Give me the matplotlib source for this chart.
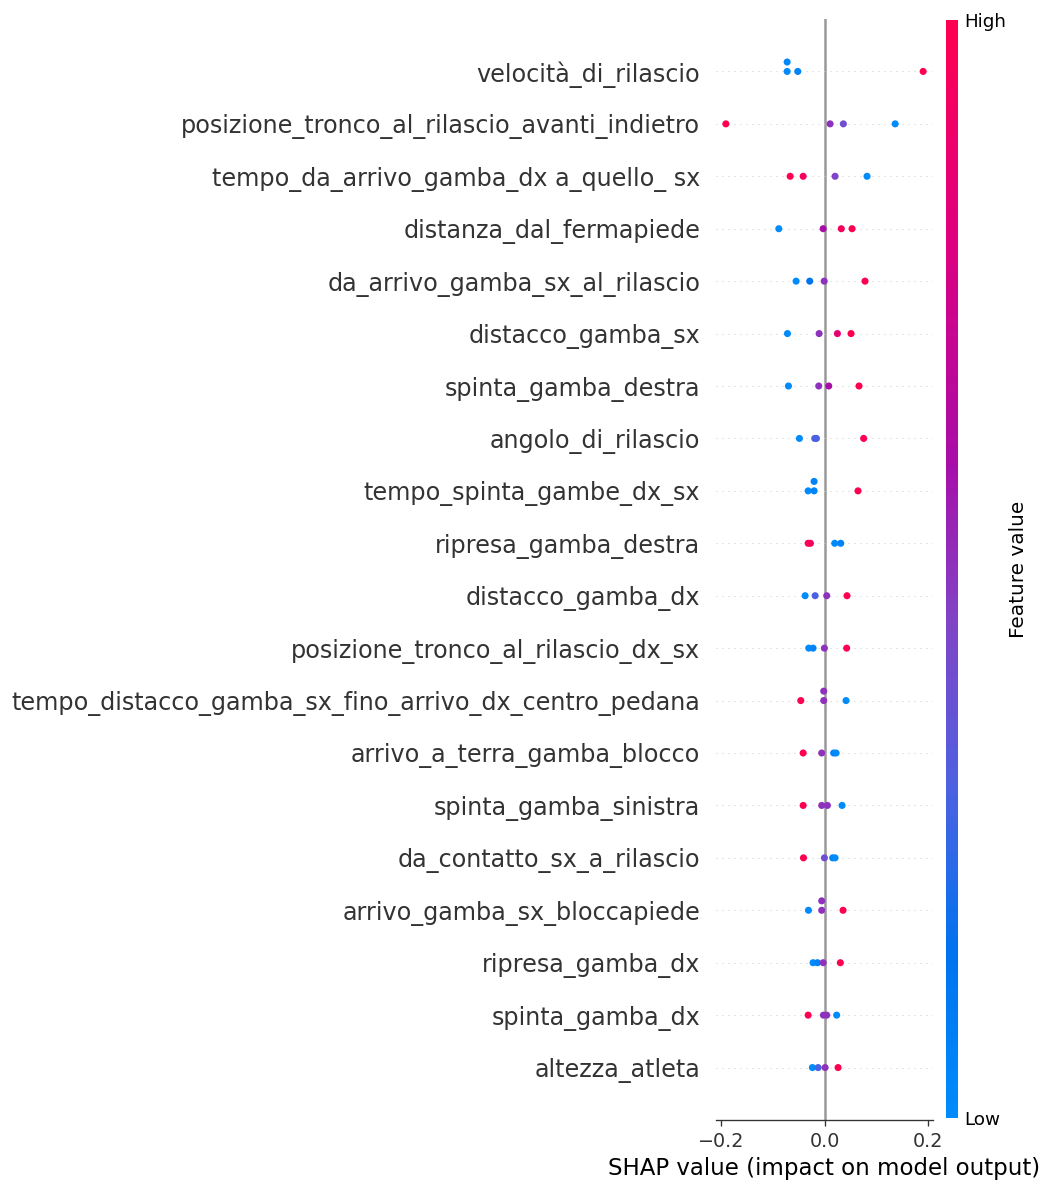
import numpy as np
import matplotlib
matplotlib.use("Agg")
from matplotlib import pyplot as plt
from matplotlib.colors import LinearSegmentedColormap

# features, top to bottom
features = [
    "velocità_di_rilascio",
    "posizione_tronco_al_rilascio_avanti_indietro",
    "tempo_da_arrivo_gamba_dx a_quello_ sx",
    "distanza_dal_fermapiede",
    "da_arrivo_gamba_sx_al_rilascio",
    "distacco_gamba_sx",
    "spinta_gamba_destra",
    "angolo_di_rilascio",
    "tempo_spinta_gambe_dx_sx",
    "ripresa_gamba_destra",
    "distacco_gamba_dx",
    "posizione_tronco_al_rilascio_dx_sx",
    "tempo_distacco_gamba_sx_fino_arrivo_dx_centro_pedana",
    "arrivo_a_terra_gamba_blocco",
    "spinta_gamba_sinistra",
    "da_contatto_sx_a_rilascio",
    "arrivo_gamba_sx_bloccapiede",
    "ripresa_gamba_dx",
    "spinta_gamba_dx",
    "altezza_atleta",
]

# SHAP values of the 4 samples, one row per feature
shap_values = [
    [-0.0725, -0.0725, -0.0520, 0.190],
    [-0.1908, 0.0104, 0.0360, 0.136],
    [-0.0667, -0.0416, 0.0200, 0.0817],
    [-0.0886, -0.0030, 0.0320, 0.0528],
    [-0.0552, -0.0289, -0.0010, 0.0778],
    [-0.0719, -0.0108, 0.0245, 0.0508],
    [-0.0700, -0.0115, 0.0078, 0.0662],
    [-0.0488, -0.0193, -0.0160, 0.0752],
    [-0.0320, -0.0205, -0.0205, 0.0643],
    [-0.0320, -0.0276, 0.0193, 0.0310],
    [-0.0378, -0.0185, 0.0039, 0.0431],
    [-0.0308, -0.0225, -0.0006, 0.0424],
    [-0.0462, -0.0019, -0.0019, 0.0412],
    [-0.0416, -0.0058, 0.0173, 0.0220],
    [-0.0416, -0.0058, 0.0052, 0.0335],
    [-0.0410, -0.0006, 0.0154, 0.0200],
    [-0.0314, -0.0058, -0.0058, 0.0354],
    [-0.0225, -0.0140, -0.0030, 0.0302],
    [-0.0320, -0.0025, 0.0039, 0.0231],
    [-0.0237, -0.0127, 0.0008, 0.0258],
]

# normalised feature values (0 = low, 1 = high), same layout
feature_values = [
    [0.0, 0.02, 0.05, 1.0],
    [1.0, 0.5, 0.4, 0.0],
    [1.0, 0.95, 0.45, 0.0],
    [0.0, 0.6, 0.95, 1.0],
    [0.0, 0.15, 0.5, 1.0],
    [0.0, 0.5, 0.85, 1.0],
    [0.0, 0.5, 0.6, 1.0],
    [0.0, 0.3, 0.3, 1.0],
    [0.0, 0.05, 0.05, 1.0],
    [1.0, 0.95, 0.0, 0.05],
    [0.0, 0.3, 0.5, 1.0],
    [0.0, 0.05, 0.5, 1.0],
    [1.0, 0.5, 0.5, 0.0],
    [1.0, 0.5, 0.05, 0.0],
    [1.0, 0.5, 0.5, 0.0],
    [1.0, 0.4, 0.05, 0.0],
    [0.0, 0.5, 0.5, 1.0],
    [0.0, 0.05, 0.5, 1.0],
    [1.0, 0.5, 0.5, 0.0],
    [0.0, 0.3, 0.5, 1.0],
]

red_blue = LinearSegmentedColormap.from_list("red_blue", [
    (0.0, (0.0, 0.545, 0.984)),
    (0.15, (0.0, 0.45, 0.94)),
    (0.3, (0.30, 0.38, 0.88)),
    (0.45, (0.50, 0.27, 0.78)),
    (0.6, (0.66, 0.05, 0.66)),
    (0.8, (0.87, 0.0, 0.50)),
    (1.0, (1.0, 0.0, 0.318)),
])

axis_color = "#333333"
row_height = 0.4
n = len(features)

fig = plt.figure(figsize=(1043 / 120, 1182 / 120), dpi=120)
ax = fig.add_axes([716 / 1043, 62 / 1182, 217 / 1043, 1101 / 1182])

ax.axvline(x=0, color="#999999", zorder=-1)

for i, name in enumerate(features):
    pos = n - 1 - i
    ax.axhline(y=pos, color="#cccccc", lw=0.6, dashes=(1, 5), zorder=-1)
    shaps = np.array(shap_values[i])
    vals = np.array(feature_values[i])

    # beeswarm layering, like shap
    nbins = 100
    quant = np.round(nbins * (shaps - shaps.min()) / (shaps.max() - shaps.min() + 1e-8))
    inds = np.argsort(quant, kind="stable")
    layer = 0
    last_bin = -1
    ys = np.zeros(len(shaps))
    for ind in inds:
        if quant[ind] != last_bin:
            layer = 0
        ys[ind] = np.ceil(layer / 2) * ((layer % 2) * 2 - 1)
        layer += 1
        last_bin = quant[ind]
    ys *= 0.9 * (row_height / np.max(ys + 1))

    ax.scatter(shaps, pos + ys, c=vals, cmap=red_blue, vmin=0, vmax=1,
               s=18, linewidth=0, alpha=1, zorder=3)

ax.set_ylim(-1, n)
ax.set_yticks(range(n))
ax.set_yticklabels(features[::-1], fontsize=14.3)
ax.set_xticks([-0.2, 0.0, 0.2])
ax.xaxis.set_ticks_position("bottom")
ax.yaxis.set_ticks_position("none")
for side in ["right", "top", "left"]:
    ax.spines[side].set_visible(False)
ax.spines["bottom"].set_color(axis_color)
ax.tick_params(color=axis_color, labelcolor=axis_color)
ax.tick_params("x", labelsize=11.5)
ax.tick_params("y", length=6, width=0.5, which="major")
ax.set_xlabel("SHAP value (impact on model output)", fontsize=13.7)

# colorbar
cax = fig.add_axes([946 / 1043, 64 / 1182, 12 / 1043, 1098 / 1182])
sm = plt.cm.ScalarMappable(cmap=red_blue)
sm.set_array([0, 1])
cb = fig.colorbar(sm, cax=cax, ticks=[0, 1])
cb.set_ticklabels(["Low", "High"])
cb.set_label("Feature value", size=12, labelpad=2)
cb.ax.tick_params(labelsize=11, length=0)
cb.outline.set_visible(False)

fig.savefig("out.png", dpi=120)
